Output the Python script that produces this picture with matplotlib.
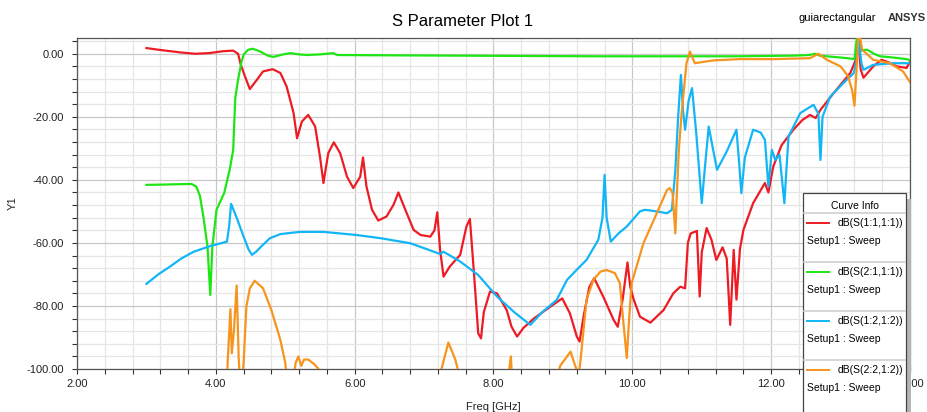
import numpy as np
import matplotlib
matplotlib.use("Agg")
import matplotlib.pyplot as plt
from matplotlib.patches import Rectangle
from matplotlib.lines import Line2D
from matplotlib.ticker import MultipleLocator, FormatStrFormatter

# ---- data (freq in GHz, dB) ----
s11_f = [3.0, 3.2, 3.5, 3.7, 3.9, 4.1, 4.25, 4.32, 4.36, 4.42, 4.49, 4.59, 4.68, 4.82,
         4.93, 5.02, 5.12, 5.17, 5.24, 5.33, 5.43, 5.50, 5.55, 5.62, 5.70, 5.79, 5.89, 5.98, 6.08,
         6.12, 6.17, 6.25, 6.34, 6.46, 6.56, 6.63, 6.73, 6.85, 6.95, 7.09, 7.15, 7.19, 7.23,
         7.28, 7.37, 7.52, 7.61, 7.66, 7.72, 7.78, 7.82, 7.86, 7.95, 8.05, 8.19, 8.26, 8.34,
         8.43, 8.58, 8.82, 8.99, 9.10, 9.20, 9.24, 9.3, 9.38, 9.45, 9.58, 9.73, 9.79, 9.86,
         9.93, 9.97, 10.02, 10.11, 10.26, 10.45, 10.59, 10.69, 10.76, 10.8, 10.84, 10.93, 10.97,
         11.0, 11.07, 11.14, 11.21, 11.30, 11.36, 11.41, 11.46, 11.50, 11.55, 11.60, 11.74,
         11.91, 11.96, 12.03, 12.15, 12.32, 12.45, 12.56, 12.64, 12.71, 12.9, 13.14, 13.22,
         13.25, 13.29, 13.33, 13.47, 13.59, 13.7, 13.81, 13.95, 14.0]
s11_db = [1.8, 1.2, 0.4, 0.0, 0.2, 0.8, 1.0, 0.0, -3.5, -7.2, -11.2, -8.3, -5.6, -4.9,
          -6.1, -10.4, -18.8, -26.8, -21.5, -19.4, -23.0, -32.6, -41.0, -31.5, -28.1, -31.5, -39.0, -42.6, -39.0,
          -32.9, -42.1, -49.5, -52.9, -51.6, -47.9, -44.0, -49.5, -55.9, -57.5, -58.0, -56.0, -50.3, -62.0,
          -70.7, -67.5, -63.8, -54.8, -52.4, -70.0, -88.7, -90.3, -82.0, -75.4, -76.0, -81.3, -86.6, -89.7,
          -87.0, -84.0, -80.2, -77.6, -82.3, -89.7, -91.3, -83.0, -74.0, -71.2, -77.0, -84.4, -86.6, -78.0,
          -66.2, -74.0, -78.0, -83.4, -85.3, -81.3, -76.0, -73.9, -74.4, -60.0, -57.0, -56.2, -77.0,
          -63.0, -55.3, -59.0, -65.4, -61.4, -65.0, -86.0, -62.2, -78.0, -62.0, -55.9, -47.4,
          -41.0, -44.0, -35.8, -29.0, -24.1, -21.0, -19.4, -20.4, -17.8, -12.5, -6.1, -1.9,
          6.0, -5.0, -7.6, -4.0, -1.9, -2.8, -4.0, -4.5, -2.5]

s21_f = [3.0, 3.65, 3.72, 3.77, 3.82, 3.88, 3.92, 3.95, 4.01, 4.12, 4.20, 4.25, 4.28, 4.32,
         4.37, 4.40, 4.46, 4.53, 4.64, 4.75, 4.83, 4.95, 5.07, 5.2, 5.31, 5.5, 5.69, 5.75,
         6.5, 7.5, 8.5, 9.5, 10.5, 11.5, 12.3, 12.55, 12.63, 12.7, 12.9, 13.1, 13.2, 13.24,
         13.3, 13.38, 13.5, 13.57, 13.76, 13.95, 14.0]
s21_db = [-41.6, -41.3, -42.2, -45.0, -51.6, -61.2, -76.5, -61.2, -49.5, -44.2, -36.8, -30.5, -14.0, -8.3,
          -2.5, -0.3, 1.2, 1.6, 0.7, -0.6, -1.0, -0.3, 0.2, -0.2, -0.4, -0.2, 0.2, -0.4,
          -0.5, -0.6, -0.7, -0.8, -0.8, -0.8, -0.6, -0.4, 0.0, -0.6, -1.0, -1.4, -1.7, 6.0,
          1.0, 1.3, -0.2, -0.8, -1.2, -1.7, -2.0]

s12_f = [3.0, 3.17, 3.34, 3.5, 3.68, 3.92, 4.16, 4.19, 4.22, 4.3, 4.40, 4.47, 4.52, 4.58, 4.66,
         4.78, 4.93, 5.21, 5.55, 6.03, 6.37, 6.80, 6.94, 7.23, 7.28, 7.52, 7.78, 8.05, 8.3, 8.53,
         8.7, 8.91, 9.06, 9.2, 9.34, 9.51, 9.57, 9.6, 9.63, 9.69, 9.8, 9.92, 10.11, 10.18,
         10.35, 10.50, 10.57, 10.62, 10.66, 10.70, 10.73, 10.76, 10.81, 10.86, 10.92, 11.0,
         11.05, 11.10, 11.16, 11.22, 11.36, 11.50, 11.54, 11.57, 11.62, 11.74, 11.85, 11.91,
         11.96, 12.01, 12.06, 12.12, 12.19, 12.25, 12.42, 12.61, 12.68, 12.71, 12.74, 12.85,
         13.04, 13.19, 13.23, 13.26, 13.30, 13.33, 13.47, 13.76, 14.0]
s12_db = [-73.0, -70.0, -67.5, -65.0, -62.8, -61.0, -59.6, -55.0, -47.6, -52.0, -58.0, -62.0, -63.8, -62.8, -61.0,
          -58.5, -57.2, -56.5, -56.5, -57.5, -58.5, -60.1, -61.2, -63.5, -62.8, -65.9, -70.2, -77.0, -82.0, -86.0,
          -82.0, -78.1, -71.7, -68.5, -65.4, -59.0, -52.0, -38.4, -52.0, -59.6, -57.0, -54.8, -50.0, -49.5,
          -50.0, -50.6, -49.5, -36.8, -20.0, -6.7, -18.0, -24.1, -15.0, -10.9, -25.0, -47.4,
          -35.0, -23.1, -30.0, -36.8, -31.0, -24.1, -35.0, -44.2, -33.0, -24.1, -25.0, -27.3,
          -42.1, -30.5, -33.7, -32.0, -47.4, -26.2, -18.8, -16.2, -19.0, -33.7, -20.0, -13.6,
          -9.3, -6.1, -2.0, 4.4, -3.0, -5.1, -3.5, -3.0, -3.0]

s22_f = [3.0, 4.15, 4.17, 4.21, 4.23, 4.26, 4.30, 4.33, 4.36, 4.40, 4.44, 4.49, 4.56, 4.68,
         4.80, 4.93, 5.0, 5.05, 5.12, 5.15, 5.19, 5.23, 5.27, 5.33, 5.42, 5.5, 5.6, 7.1, 7.25,
         7.35, 7.45, 7.52, 8.2, 8.25, 8.27, 8.9, 8.96, 9.11, 9.2, 9.22, 9.25, 9.34, 9.44,
         9.54, 9.63, 9.75, 9.82, 9.87, 9.92, 9.96, 9.99, 10.16, 10.33, 10.50, 10.54, 10.58,
         10.62, 10.64, 10.67, 10.71, 10.78, 10.83, 10.90, 11.17, 11.55, 12.03, 12.56, 12.68,
         12.80, 13.0, 13.11, 13.17, 13.20, 13.23, 13.26, 13.31, 13.47, 13.71, 13.90, 14.0]
s22_db = [-115.0, -112.0, -98.0, -81.0, -95.0, -88.0, -73.5, -97.0, -108.0, -98.0, -80.2, -74.4, -72.0, -74.4,
          -81.3, -90.8, -98.0, -108.0, -103.0, -98.0, -96.0, -99.0, -97.0, -97.0, -98.5, -100.5, -110.0, -110.0, -100.0,
          -91.6, -97.0, -103.0, -105.0, -96.0, -104.0, -105.0, -99.0, -94.5, -100.5, -103.0, -98.0, -78.0, -71.7,
          -69.1, -68.6, -69.6, -72.8, -85.0, -96.5, -82.0, -72.8, -60.1, -51.7, -43.2, -42.6, -44.2,
          -57.0, -45.0, -30.5, -18.8, -3.0, 0.7, -3.0, -2.1, -1.7, -1.7, -1.4, 0.0,
          -1.9, -4.0, -7.2, -12.0, -16.5, -5.0, 8.0, 1.3, -1.9, -3.0, -5.6, -9.0]

legend_names = ["dB(S(1:1,1:1))", "dB(S(2:1,1:1))", "dB(S(1:2,1:2))", "dB(S(2:2,1:2))"]
colors = ["#ed1c24", "#1ee614", "#12b6f6", "#f7941d"]

W, H = 927, 412
plt.rcParams["font.family"] = ["Liberation Sans", "DejaVu Sans"]
fig = plt.figure(figsize=(W / 100, H / 100), dpi=100)
fig.patch.set_facecolor("white")

# axes box in pixels: left 77, right 910, top 38, bottom 369
ax = fig.add_axes([77 / W, 1 - 369 / H, (910 - 77) / W, (369 - 38) / H])

series = [(s11_f, s11_db), (s21_f, s21_db), (s12_f, s12_db), (s22_f, s22_db)]
for (f, db), c in zip(series, colors):
    ax.plot(f, db, color=c, lw=1.6, solid_joinstyle="round", zorder=3)

ax.set_xlim(2, 14)
ax.set_ylim(-100, 5)
ax.xaxis.set_major_locator(MultipleLocator(2))
ax.xaxis.set_minor_locator(MultipleLocator(0.4))
ax.yaxis.set_major_locator(MultipleLocator(20))
ax.yaxis.set_minor_locator(MultipleLocator(4))
ax.xaxis.set_major_formatter(FormatStrFormatter("%.2f"))
ax.yaxis.set_major_formatter(FormatStrFormatter("%.2f"))
ax.grid(which="major", color="#c8c8c8", lw=0.9, zorder=0)
ax.grid(which="minor", color="#e6e6e6", lw=0.9, zorder=0)
ax.set_axisbelow(True)
ax.tick_params(which="both", direction="out", length=3.5, width=0.8, color="#333333",
               labelsize=8, labelcolor="#222222")
ax.tick_params(axis="y", pad=6)
ax.tick_params(axis="x", pad=4)
for s in ax.spines.values():
    s.set_color("#555555")
    s.set_linewidth(0.9)

ax.set_xlabel("Freq [GHz]", fontsize=8, color="#222222", labelpad=9)
ax.set_ylabel("Y1", fontsize=8, color="#222222", labelpad=6)

fig.text(463 / W, 1 - 21 / H, "S Parameter Plot 1", ha="center", va="center", fontsize=12)
fig.text(837 / W, 1 - 18 / H, "guiarectangular", ha="center", va="center", fontsize=8)
fig.text(888 / W, 1 - 18 / H, "ANSYS", ha="left", va="center", fontsize=8, fontweight="bold",
         color="#333333")

# "Curve Info" box
def fx(px):
    return px / W

def fy(py):
    return 1 - py / H

box_l, box_r, box_t, box_b = 803, 906, 193, 420
fig.patches.append(Rectangle((fx(box_l + 5), fy(box_b)), fx(box_r - box_l), fy(box_t + 6) - fy(box_b),
                             transform=fig.transFigure, facecolor="#b4b4b4", edgecolor="none", zorder=5))
fig.patches.append(Rectangle((fx(box_l), fy(box_b)), fx(box_r - box_l), fy(box_t) - fy(box_b),
                             transform=fig.transFigure, facecolor="white", edgecolor="#444444",
                             lw=0.9, zorder=6))
fig.text(fx(855), fy(206), "Curve Info", ha="center", va="center", fontsize=7.5, zorder=7)
for i, (name, c) in enumerate(zip(legend_names, colors)):
    y0 = 223 + 49 * i
    sep = y0 - 10
    fig.lines.append(Line2D([fx(box_l + 1), fx(box_r - 1)], [fy(sep), fy(sep)], transform=fig.transFigure,
                            color="#d0d0d0", lw=1.2, zorder=7))
    fig.lines.append(Line2D([fx(807), fx(829)], [fy(y0), fy(y0)], transform=fig.transFigure,
                            color=c, lw=1.4, zorder=7))
    fig.text(fx(903), fy(y0), name, ha="right", va="center", fontsize=7.5, zorder=7)
    fig.text(fx(807), fy(y0 + 18), "Setup1 : Sweep", ha="left", va="center", fontsize=7.5, zorder=7)

fig.savefig("out.png", dpi=100)
